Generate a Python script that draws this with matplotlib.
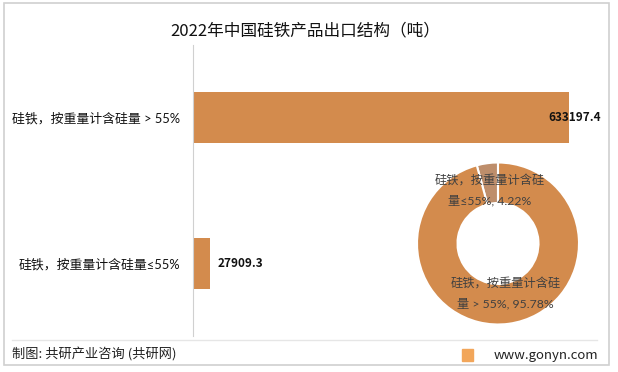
import matplotlib.pyplot as plt
from matplotlib.patches import Rectangle
from matplotlib.lines import Line2D

plt.rcParams['font.family'] = ['Noto Sans CJK SC', 'DejaVu Sans']
mixed = ['Lato', 'Noto Sans CJK SC', 'DejaVu Sans']

categories = ["硅铁，按重量计含硅量 > 55%", "硅铁，按重量计含硅量≤55%"]
values = [633197.4, 27909.3]
value_labels = ["633197.4", "27909.3"]
pie_labels = ["硅铁，按重量计含硅\n量 > 55%, 95.78%", "硅铁，按重量计含硅\n量≤55%, 4.22%"]
pie_shares = [95.78, 4.22]

bar_color = "#D38B4D"
small_color = "#BE8E6B"

fig = plt.figure(figsize=(6.18, 3.72), dpi=100)
W, H = 618, 372

# outer frame and footer separator
fig.add_artist(Rectangle((4 / W, 1 - 365 / H), 605 / W, 362 / H, transform=fig.transFigure,
                         fill=False, edgecolor="#D0D0D0", lw=1.2))
fig.add_artist(Line2D([12 / W, 597 / W], [1 - 340 / H] * 2, transform=fig.transFigure,
                      color="#E6E6E6", lw=1))

fig.text(305 / W, 1 - 31 / H, "2022年中国硅铁产品出口结构（吨）", ha="center", va="center",
         fontsize=12, color="#111111")

# bar chart
ax = fig.add_axes([193 / W, 1 - 336 / H, 417 / W, 291 / H])
y = list(range(len(categories)))
ax.barh(y, values, height=0.35, color=bar_color)
ax.set_xlim(0, values[0] * 417 / 376)
ax.set_ylim(1.5, -0.5)
for s in ["top", "right", "bottom"]:
    ax.spines[s].set_visible(False)
ax.spines["left"].set_color("#D0D0D0")
ax.set_xticks([])
ax.set_yticks(y)
ax.set_yticklabels(categories, fontsize=9.3, color="#111111", family=mixed)
ax.tick_params(axis="y", length=0, pad=9)
ax.annotate(value_labels[0], (values[0], 0), xytext=(-15, 0), textcoords="offset points",
            ha="left", va="center", fontsize=8.5, fontweight="bold", color="#111111")
ax.annotate(value_labels[1], (values[1], 1), xytext=(6, 0), textcoords="offset points",
            ha="left", va="center", fontsize=8.5, fontweight="bold", color="#111111")

# donut
pax = fig.add_axes([417 / W, 1 - 325 / H, 162 / W, 163 / H])
pax.pie(pie_shares[::-1], colors=[small_color, bar_color], startangle=90, counterclock=True,
        radius=1, wedgeprops=dict(width=0.5, edgecolor="white", linewidth=1.5))
pax.set_xlim(-1, 1)
pax.set_ylim(-1, 1)
pax.set_aspect("equal")
pax.axis("off")
pax.text(-0.1, 0.66, pie_labels[1], ha="center", va="center", fontsize=8.8,
         color="#404040", linespacing=1.9, family=mixed)
pax.text(0.09, -0.61, pie_labels[0], ha="center", va="center", fontsize=8.8,
         color="#404040", linespacing=1.9, family=mixed)

# footer
fig.text(12 / W, 1 - 355 / H, "制图: 共研产业咨询 (共研网)", ha="left", va="center",
         fontsize=9.5, color="#222222")
fig.add_artist(Rectangle((462 / W, 1 - 361 / H), 11 / W, 12 / H, transform=fig.transFigure,
                         color="#F2A65A"))
fig.text(598 / W, 1 - 355 / H, "www.gonyn.com", ha="right", va="center",
         fontsize=9.5, color="#222222")

fig.savefig("out.png", dpi=100)
